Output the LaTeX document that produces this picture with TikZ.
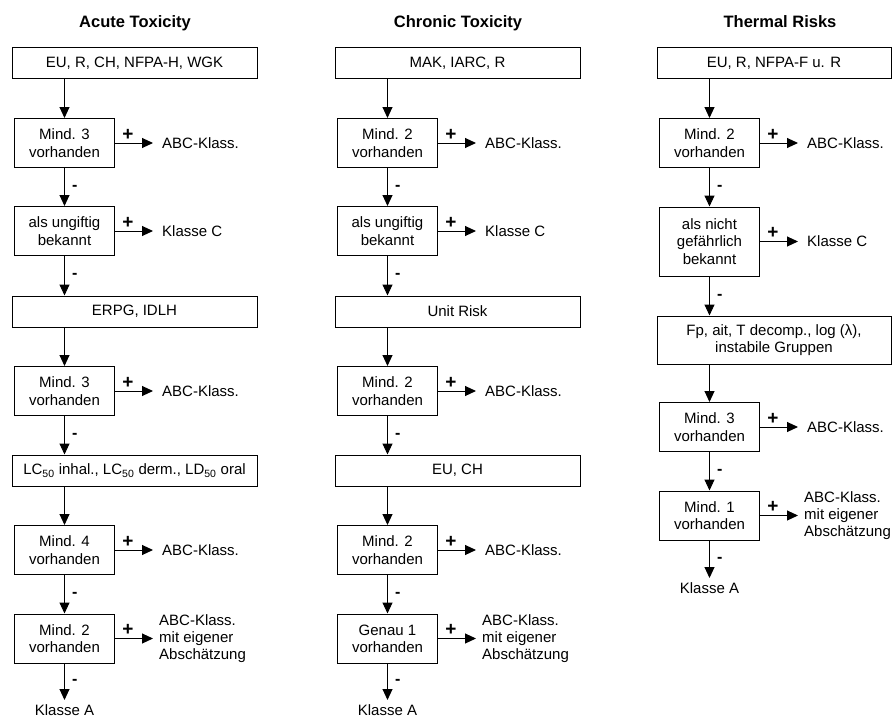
\documentclass[tikz,border=0pt]{standalone}
\usepackage{fontspec}
\setmainfont{Liberation Sans}
\usetikzlibrary{arrows.meta}

\tikzset{
  base/.style={font=\fontsize{15}{17.3}\selectfont},
  sign/.style={font=\fontsize{16}{18}\selectfont\bfseries, inner sep=0pt},
  coltitle/.style={font=\fontsize{16.5}{19}\selectfont\bfseries, anchor=base, inner sep=0pt},
  boxstyle/.style={base, draw, line width=1pt, inner sep=0pt, align=center},
  wide/.style={boxstyle, minimum width=245pt, minimum height=31pt},
  small/.style={boxstyle, minimum width=100pt, minimum height=49pt},
  rlab/.style={base, anchor=west, inner xsep=9pt, inner ysep=0pt, align=left},
  rlabm/.style={base, anchor=west, inner xsep=6pt, inner ysep=0pt, align=left},
  endlab/.style={base, anchor=north, inner xsep=0pt, inner ysep=4pt},
  arr/.style={line width=1pt, -{Triangle[length=11pt,width=10pt]}},
  plus/.style={sign, font=\fontsize{19}{21}\selectfont\bfseries, pos=0.34, anchor=base, yshift=3pt},
  minus/.style={sign, pos=0.5, anchor=base west, xshift=7pt, yshift=-3pt},
}

\begin{document}
\begin{tikzpicture}[x=1pt, y=-1pt]
\useasboundingbox (0,0) rectangle (892,717);

% ---------------- Acute Toxicity ----------------
\node[coltitle] (t1) at (135,27.5) {Acute Toxicity};
\node[wide]  (a1) at (134.5,63.5) {EU, R, CH, NFPA-H, WGK};
\node[small] (a2) at (64.5,143) {Mind. 3\\vorhanden};
\node[rlab]  (a2r) at (153,143) {ABC-Klass.};
\node[small] (a3) at (64.5,231) {als ungiftig\\bekannt};
\node[rlab]  (a3r) at (153,231) {Klasse C};
\node[wide]  (a4) at (134.5,311.5) {ERPG, IDLH};
\node[small] (a5) at (64.5,391) {Mind. 3\\vorhanden};
\node[rlab]  (a5r) at (153,391) {ABC-Klass.};
\node[wide]  (a6) at (134.5,470.5) {LC\textsubscript{50} inhal., LC\textsubscript{50} derm., LD\textsubscript{50} oral};
\node[small] (a7) at (64.5,550) {Mind. 4\\vorhanden};
\node[rlab]  (a7r) at (153,550) {ABC-Klass.};
\node[small] (a8) at (64.5,638.5) {Mind. 2\\vorhanden};
\node[rlabm] (a8r) at (153,638.5) {ABC-Klass.\\mit eigener\\Abschätzung};
\node[endlab] (a9) at (64.5,700) {Klasse A};

\draw[arr] (a1.south -| a2.north) -- (a2.north);
\draw[arr] (a2) -- node[plus]{+} (a2r);
\draw[arr] (a2) -- node[minus]{-} (a3);
\draw[arr] (a3) -- node[plus]{+} (a3r);
\draw[arr] (a3.south) -- node[minus]{-} (a3.south |- a4.north);
\draw[arr] (a4.south -| a5.north) -- (a5.north);
\draw[arr] (a5) -- node[plus]{+} (a5r);
\draw[arr] (a5.south) -- node[minus]{-} (a5.south |- a6.north);
\draw[arr] (a6.south -| a7.north) -- (a7.north);
\draw[arr] (a7) -- node[plus]{+} (a7r);
\draw[arr] (a7) -- node[minus]{-} (a8);
\draw[arr] (a8) -- node[plus]{+} (a8r);
\draw[arr] (a8) -- node[minus]{-} (a9);

% ---------------- Chronic Toxicity ----------------
\node[coltitle] (t2) at (458,27.5) {Chronic Toxicity};
\node[wide]  (b1) at (457.5,63.5) {MAK, IARC, R};
\node[small] (b2) at (387.5,143) {Mind. 2\\vorhanden};
\node[rlab]  (b2r) at (476,143) {ABC-Klass.};
\node[small] (b3) at (387.5,231) {als ungiftig\\bekannt};
\node[rlab]  (b3r) at (476,231) {Klasse C};
\node[wide]  (b4) at (457.5,311.5) {Unit Risk};
\node[small] (b5) at (387.5,391) {Mind. 2\\vorhanden};
\node[rlab]  (b5r) at (476,391) {ABC-Klass.};
\node[wide]  (b6) at (457.5,470.5) {EU, CH};
\node[small] (b7) at (387.5,550) {Mind. 2\\vorhanden};
\node[rlab]  (b7r) at (476,550) {ABC-Klass.};
\node[small] (b8) at (387.5,638.5) {Genau 1\\vorhanden};
\node[rlabm] (b8r) at (476,638.5) {ABC-Klass.\\mit eigener\\Abschätzung};
\node[endlab] (b9) at (387.5,700) {Klasse A};

\draw[arr] (b1.south -| b2.north) -- (b2.north);
\draw[arr] (b2) -- node[plus]{+} (b2r);
\draw[arr] (b2) -- node[minus]{-} (b3);
\draw[arr] (b3) -- node[plus]{+} (b3r);
\draw[arr] (b3.south) -- node[minus]{-} (b3.south |- b4.north);
\draw[arr] (b4.south -| b5.north) -- (b5.north);
\draw[arr] (b5) -- node[plus]{+} (b5r);
\draw[arr] (b5.south) -- node[minus]{-} (b5.south |- b6.north);
\draw[arr] (b6.south -| b7.north) -- (b7.north);
\draw[arr] (b7) -- node[plus]{+} (b7r);
\draw[arr] (b7) -- node[minus]{-} (b8);
\draw[arr] (b8) -- node[plus]{+} (b8r);
\draw[arr] (b8) -- node[minus]{-} (b9);

% ---------------- Thermal Risks ----------------
\node[coltitle] (t3) at (780,27.5) {Thermal Risks};
\node[wide, minimum width=234pt] (c1) at (774,63.5) {EU, R, NFPA-F u. R};
\node[small] (c2) at (709.5,143) {Mind. 2\\vorhanden};
\node[rlab]  (c2r) at (798,143) {ABC-Klass.};
\node[small, minimum height=69pt] (c3) at (709.5,241.5) {als nicht\\gefährlich\\bekannt};
\node[rlab]  (c3r) at (798,241.5) {Klasse C};
\node[wide, minimum width=234pt, minimum height=48pt] (c4) at (774,340) {Fp, ait, T decomp., log (λ),\\instabile Gruppen};
\node[small] (c5) at (709.5,427) {Mind. 3\\vorhanden};
\node[rlab]  (c5r) at (798,427) {ABC-Klass.};
\node[small] (c6) at (709.5,515.5) {Mind. 1\\vorhanden};
\node[rlabm] (c6r) at (798,515.5) {ABC-Klass.\\mit eigener\\Abschätzung};
\node[endlab] (c7) at (709.5,578) {Klasse A};

\draw[arr] (c1.south -| c2.north) -- (c2.north);
\draw[arr] (c2) -- node[plus]{+} (c2r);
\draw[arr] (c2) -- node[minus]{-} (c3);
\draw[arr] (c3) -- node[plus]{+} (c3r);
\draw[arr] (c3.south) -- node[minus]{-} (c3.south |- c4.north);
\draw[arr] (c4.south -| c5.north) -- (c5.north);
\draw[arr] (c5) -- node[plus]{+} (c5r);
\draw[arr] (c5) -- node[minus]{-} (c6);
\draw[arr] (c6) -- node[plus]{+} (c6r);
\draw[arr] (c6) -- node[minus]{-} (c7);
\end{tikzpicture}
\end{document}
